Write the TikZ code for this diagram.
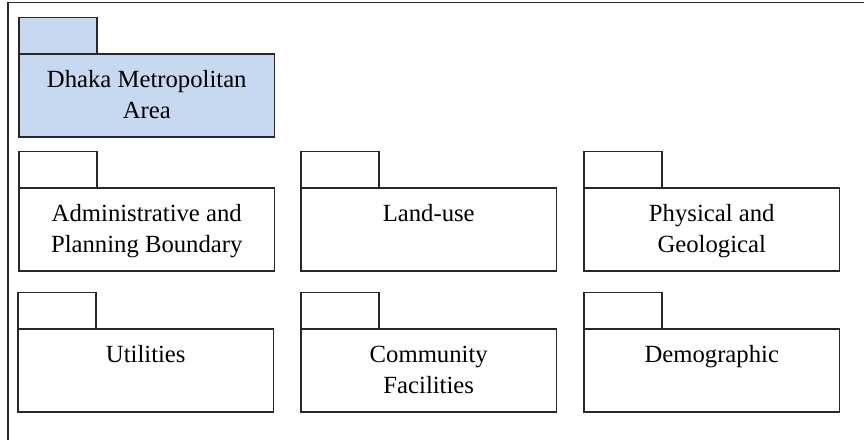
\documentclass[tikz,border=0pt]{standalone}
\usepackage{fontspec}
\setmainfont{Liberation Serif}
\definecolor{pkgblue}{RGB}{198,217,240}
\definecolor{pkgline}{RGB}{40,40,40}
\tikzset{
  pkgframe/.style={draw=pkgline, line width=0.6pt},
  pkgbody/.style={pkgframe, rectangle, anchor=north west, inner sep=0pt, outer sep=0pt,
    minimum width=127.75pt, minimum height=41.5pt},
  pkgtab/.style={pkgframe, rectangle, anchor=south west, inner sep=0pt, outer sep=0pt,
    minimum width=39pt, minimum height=18.25pt},
  pkgcaption/.style={anchor=base, inner sep=0pt, font=\fontsize{12.35}{15.85}\selectfont},
}
% caption text, first baseline on the node's base anchor
\newcommand\pkgtext[1]{\parbox[t]{125pt}{\centering #1}}
\begin{document}
\begin{tikzpicture}[x=0.5pt, y=-0.5pt]
  \clip (0,0) rectangle (864,440);
  % enclosing frame (runs past the right and bottom edges)
  \draw[pkgframe] (8,2.5) rectangle (880,460);

  % top-level package
  \node[pkgbody, fill=pkgblue] (dma) at (19,54) {};
  \node[pkgtab, fill=pkgblue] (dmatab) at (dma.north west) {};
  \node[pkgcaption] (dmatxt) at ([yshift=-16.5pt]dma.north) {\pkgtext{Dhaka Metropolitan\\Area}};

  % second row
  \node[pkgbody] (adm) at (19,188) {};
  \node[pkgtab] (admtab) at (adm.north west) {};
  \node[pkgcaption] (admtxt) at ([yshift=-16.5pt]adm.north) {\pkgtext{Administrative and\\Planning Boundary}};

  \node[pkgbody] (land) at (301,188) {};
  \node[pkgtab] (landtab) at (land.north west) {};
  \node[pkgcaption] (landtxt) at ([yshift=-16.5pt]land.north) {\pkgtext{Land-use}};

  \node[pkgbody] (phys) at (584,188) {};
  \node[pkgtab] (phystab) at (phys.north west) {};
  \node[pkgcaption] (phystxt) at ([yshift=-16.5pt]phys.north) {\pkgtext{Physical and\\Geological}};

  % third row
  \node[pkgbody] (util) at (18,329) {};
  \node[pkgtab] (utiltab) at (util.north west) {};
  \node[pkgcaption] (utiltxt) at ([yshift=-16.5pt]util.north) {\pkgtext{Utilities}};

  \node[pkgbody] (comm) at (301,329) {};
  \node[pkgtab] (commtab) at (comm.north west) {};
  \node[pkgcaption] (commtxt) at ([yshift=-16.5pt]comm.north) {\pkgtext{Community\\Facilities}};

  \node[pkgbody] (demo) at (584,329) {};
  \node[pkgtab] (demotab) at (demo.north west) {};
  \node[pkgcaption] (demotxt) at ([yshift=-16.5pt]demo.north) {\pkgtext{Demographic}};
\end{tikzpicture}
\end{document}
